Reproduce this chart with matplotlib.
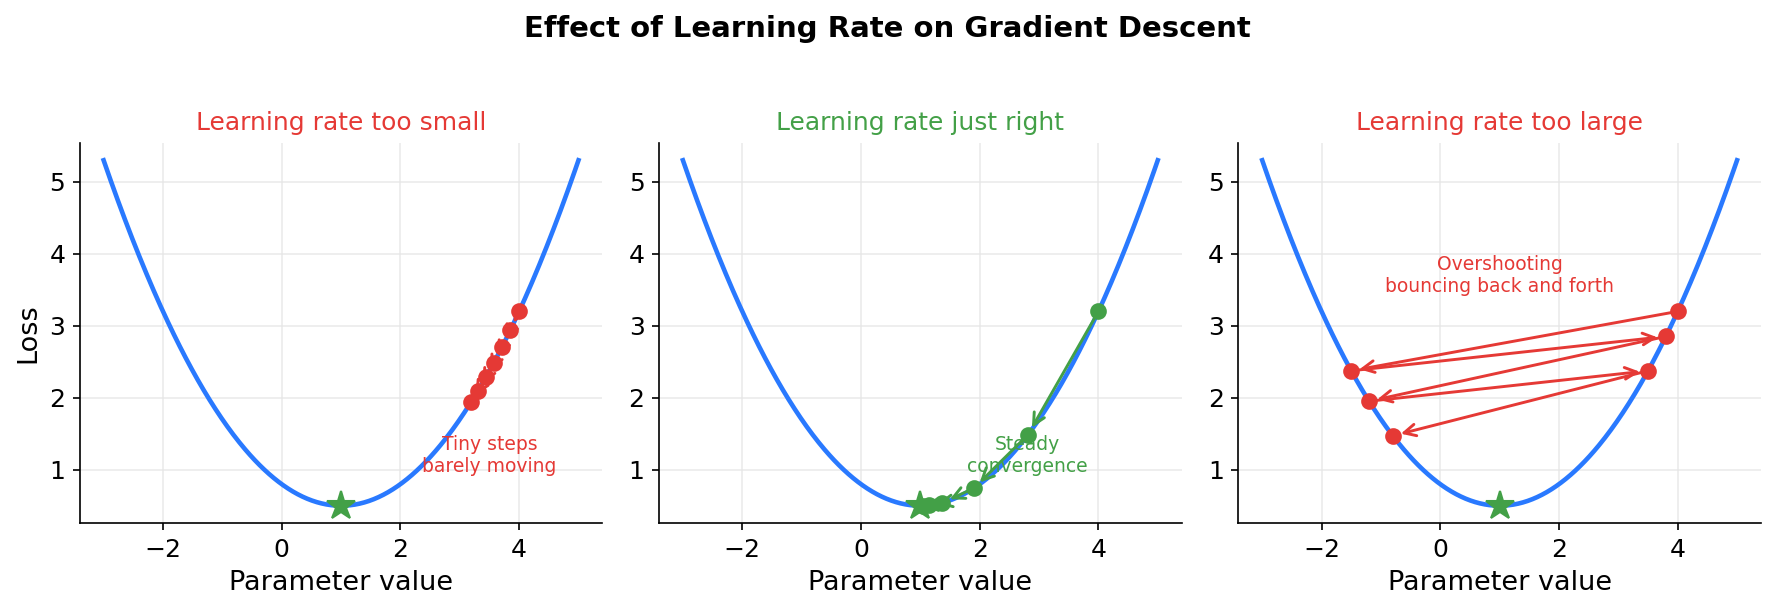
import numpy as np
import matplotlib
matplotlib.use("Agg")
import matplotlib.pyplot as plt

# Loss curve parameters: loss = a*(x - x_min)^2 + l_min
a_coef = 0.3
x_min = 1.0
l_min = 0.5
x_range = (-3.0, 5.0)

titles = ["Learning rate too small", "Learning rate just right", "Learning rate too large"]
title_colors = ["#e53935", "#43a047", "#e53935"]

# Gradient-descent step positions
steps_small = [4.0, 3.85, 3.71, 3.57, 3.44, 3.31, 3.19]
steps_right = [4.0, 2.81, 1.9, 1.37, 1.15, 1.05]
steps_large = [4.0, -1.5, 3.8, -1.2, 3.5, -0.8]
all_steps = [steps_small, steps_right, steps_large]
step_colors = ["#e53935", "#43a047", "#e53935"]

notes = ["Tiny steps\nbarely moving", "Steady\nconvergence", "Overshooting\nbouncing back and forth"]
note_pos = [(3.5, 1.2), (2.8, 1.2), (1.0, 3.7)]


def loss(x):
    return a_coef * (np.asarray(x) - x_min) ** 2 + l_min


fig, axes = plt.subplots(1, 3, figsize=(1775 / 150, 611 / 150), dpi=150)
fig.subplots_adjust(left=0.045, right=0.992, bottom=0.144, top=0.766, wspace=0.109)

xs = np.linspace(x_range[0], x_range[1], 400)
for i, ax in enumerate(axes):
    ax.plot(xs, loss(xs), color="#2979ff", lw=2.2, zorder=2)
    px = np.array(all_steps[i])
    py = loss(px)
    col = step_colors[i]
    for j in range(len(px) - 1):
        ax.annotate("", xy=(px[j + 1], py[j + 1]), xytext=(px[j], py[j]),
                    arrowprops=dict(arrowstyle="->", color=col, lw=1.4,
                                    mutation_scale=14, shrinkA=0, shrinkB=4),
                    zorder=3)
    ax.plot(px, py, "o", color=col, ms=7, zorder=4)
    ax.plot([x_min], [l_min], "*", color="#43a047", ms=14, zorder=5)
    ax.text(note_pos[i][0], note_pos[i][1], notes[i], color=col, fontsize=9,
            ha="center", va="center")
    ax.set_title(titles[i], color=title_colors[i], fontsize=12)
    ax.set_xlabel("Parameter value", fontsize=13)
    ax.tick_params(labelsize=12)
    ax.spines["top"].set_visible(False)
    ax.spines["right"].set_visible(False)
    ax.grid(True, color="#e6e6e6", lw=0.8, alpha=0.8)
    ax.set_axisbelow(True)
    ax.set_xticks([-2, 0, 2, 4])
    ax.set_yticks([1, 2, 3, 4, 5])

axes[0].set_ylabel("Loss", fontsize=13)
fig.suptitle("Effect of Learning Rate on Gradient Descent", fontsize=14,
             fontweight="bold", y=0.975)

fig.savefig("out.png", dpi=150)
